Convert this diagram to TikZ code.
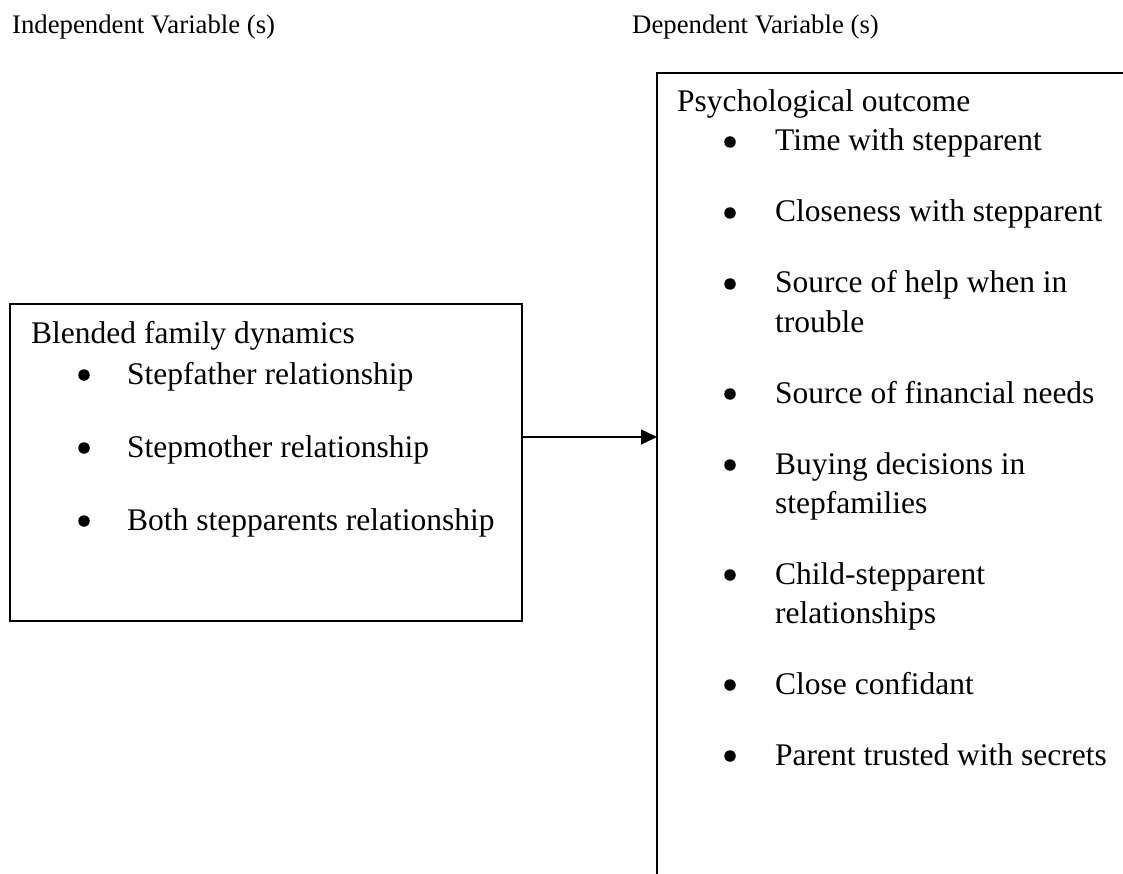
\documentclass[tikz,border=0pt]{standalone}
\usepackage{fontspec}
\setmainfont{Liberation Serif}
\usetikzlibrary{arrows.meta}
\begin{document}
\begin{tikzpicture}[x=1pt,y=-1pt,
  hdr/.style={anchor=base west,inner sep=0pt,font=\fontsize{26.75}{30}\selectfont},
  txt/.style={anchor=base west,inner sep=0pt,font=\fontsize{31.5}{38}\selectfont},
  dot/.style={circle,fill=black,inner sep=0pt,minimum size=11.5pt},
  boxframe/.style={draw=black,line width=2pt,inner sep=0pt,outer sep=0pt,rectangle},
  conn/.style={line width=1.4pt,-{Triangle[length=16pt,width=15pt]}}]
\useasboundingbox (0,0) rectangle (1123,874);
\fill[white] (0,0) rectangle (1123,874);
\clip (0,0) rectangle (1123,874);
% headers
\node[hdr] (indep) at (12,34) {Independent Variable (s)};
\node[hdr] (dep) at (632,34) {Dependent Variable (s)};
% boxes
\node[boxframe,minimum width=512pt,minimum height=317pt] (leftbox) at (266,462.5) {};
\node[boxframe,minimum width=543pt,minimum height=877pt] (rightbox) at (928.5,511.5) {};
% left box content
\node[txt] (ltitle) at (31,343) {Blended family dynamics};
\foreach \yy/\tt/\nn in {384/Stepfather relationship/1, 457/Stepmother relationship/2, 530/Both stepparents relationship/3}{
  \node[dot] (lb\nn) at (84,\yy-9) {};
  \node[txt] (lt\nn) at (127,\yy) {\tt};
}
% right box content
\node[txt] (rtitle) at (677,112) {Psychological outcome};
\foreach \yy/\tt/\nn in {151/Time with stepparent/1, 222/Closeness with stepparent/2, 293/Source of help when in/3, 403/Source of financial needs/4, 474/Buying decisions in/5, 584/Child-stepparent/6, 694/Close confidant/7, 765/Parent trusted with secrets/8}{
  \node[dot] (rb\nn) at (730,\yy-9) {};
  \node[txt] (rt\nn) at (775,\yy) {\tt};
}
\node[txt] (rc3) at (775,332) {trouble};
\node[txt] (rc5) at (775,513) {stepfamilies};
\node[txt] (rc6) at (775,623) {relationships};
% connector
\coordinate (ay) at (0,437);
\draw[conn] (leftbox.east |- ay) -- (rightbox.west |- ay);
\end{tikzpicture}
\end{document}
